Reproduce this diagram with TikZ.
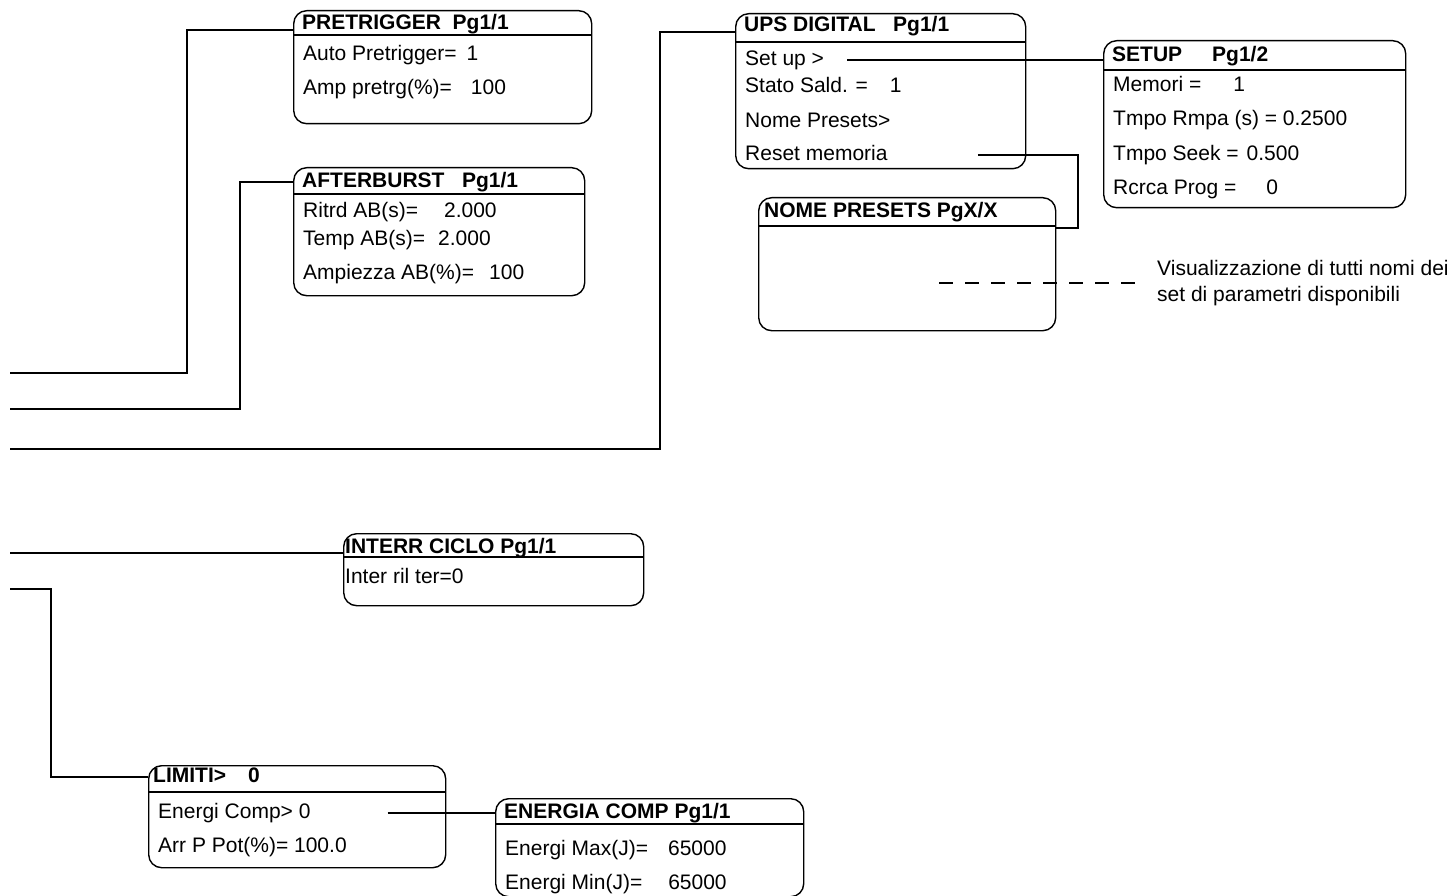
\documentclass[tikz,border=0pt]{standalone}
\usepackage{fontspec}
\setmainfont{Liberation Sans}
\usetikzlibrary{positioning}
\definecolor{menuInk}{HTML}{000000}
\tikzset{
  every picture/.style={font=\fontsize{21pt}{25pt}\selectfont, text=menuInk},
  menu box/.style={draw=menuInk, line width=1.4pt, rounded corners=13pt,
    anchor=north west, inner sep=0pt},
  menu title/.style={anchor=base west, font=\fontsize{21pt}{25pt}\selectfont\bfseries,
    inner xsep=9pt, inner ysep=0pt, text height=15pt, text depth=4pt},
  menu row/.style={anchor=west, inner xsep=10pt, inner ysep=0pt,
    text height=15pt, text depth=4pt},
  menu rule/.style={draw=menuInk, line width=1.8pt},
  menu link/.style={draw=menuInk, line width=2pt},
  menu dash/.style={draw=menuInk, line width=1.6pt, dash pattern=on 14pt off 12pt},
  menu note/.style={anchor=west, align=left, inner sep=0pt,
    font=\fontsize{21pt}{26pt}\selectfont}
}

\begin{document}
\begin{tikzpicture}[x=1pt,y=-1pt]
  \useasboundingbox (0,0) rectangle (1448,896);

  % PRETRIGGER
  \node[menu box, minimum width=298pt, minimum height=113pt] (pre) at (293,10) {};
  \draw[menu rule] ([yshift=-25pt]pre.north west) -- ([yshift=-25pt]pre.north east);
  \node[menu title] (preT) at (293,30) {PRETRIGGER\ \ Pg1/1};
  \node[menu row] (preA) at (293,55) {Auto Pretrigger=\hspace{10pt}1};
  \node[menu row] (preB) at (293,89) {Amp pretrg(\%)=\hspace{19pt}100};

  % AFTERBURST
  \node[menu box, minimum width=291pt, minimum height=128pt] (aft) at (293,167) {};
  \draw[menu rule] ([yshift=-27pt]aft.north west) -- ([yshift=-27pt]aft.north east);
  \node[menu title] (aftT) at (293,188) {AFTERBURST\ \ \ Pg1/1};
  \node[menu row] (aftA) at (293,212) {Ritrd AB(s)=\hspace{26pt}2.000};
  \node[menu row] (aftB) at (293,240) {Temp AB(s)=\hspace{13pt}2.000};
  \node[menu row] (aftC) at (293,274) {Ampiezza AB(\%)=\hspace{15pt}100};

  % UPS DIGITAL
  \node[menu box, minimum width=290pt, minimum height=155pt] (ups) at (735,13) {};
  \draw[menu rule] ([yshift=-29pt]ups.north west) -- ([yshift=-29pt]ups.north east);
  \node[menu title] (upsT) at (735,32) {UPS DIGITAL\ \ \ Pg1/1};
  \node[menu row] (upsA) at (735,60) {Set up >};
  \node[menu row] (upsB) at (735,87) {Stato Sald. =\hspace{22pt}1};
  \node[menu row] (upsC) at (735,122) {Nome Presets>};
  \node[menu row] (upsD) at (735,155) {Reset memoria};

  % SETUP
  \node[menu box, minimum width=302pt, minimum height=167pt] (setup) at (1103,40) {};
  \draw[menu rule] ([yshift=-30pt]setup.north west) -- ([yshift=-30pt]setup.north east);
  \node[menu title] (setupT) at (1103,62) {SETUP\hspace{30pt}Pg1/2};
  \node[menu row] (setupA) at (1103,86) {Memori =\hspace{32pt}1};
  \node[menu row] (setupB) at (1103,120) {Tmpo Rmpa (s) = 0.2500};
  \node[menu row] (setupC) at (1103,155) {Tmpo Seek =\hspace{8pt}0.500};
  \node[menu row] (setupD) at (1103,189) {Rcrca Prog =\hspace{30pt}0};

  % NOME PRESETS
  \node[menu box, minimum width=297pt, minimum height=133pt] (nome) at (758,197) {};
  \draw[menu rule] ([yshift=-29pt]nome.north west) -- ([yshift=-29pt]nome.north east);
  \node[menu title, inner xsep=6pt] (nomeT) at (758,218) {NOME PRESETS PgX/X};
  \node[menu note] (note) at (1157,283) {Visualizzazione di tutti nomi dei\\set di parametri disponibili};

  % INTERR CICLO
  \node[menu box, minimum width=300pt, minimum height=72pt] (intr) at (343,533) {};
  \draw[menu rule] ([yshift=-24pt]intr.north west) -- ([yshift=-24pt]intr.north east);
  \node[menu title, inner xsep=2pt] (intrT) at (343,553) {INTERR CICLO Pg1/1};
  \node[menu row, inner xsep=2pt] (intrA) at (343,578) {Inter ril ter=0};

  % LIMITI
  \node[menu box, minimum width=297pt, minimum height=102pt] (lim) at (148,765) {};
  \draw[menu rule] ([yshift=-27pt]lim.north west) -- ([yshift=-27pt]lim.north east);
  \node[menu title, inner xsep=5pt] (limT) at (148,782) {LIMITI>\hspace{22pt}0};
  \node[menu row] (limA) at (148,813) {Energi Comp> 0};
  \node[menu row] (limB) at (148,847) {Arr P Pot(\%)= 100.0};

  % ENERGIA COMP
  \node[menu box, minimum width=308pt, minimum height=98pt] (en) at (495,798) {};
  \draw[menu rule] ([yshift=-26pt]en.north west) -- ([yshift=-26pt]en.north east);
  \node[menu title] (enT) at (495,818) {ENERGIA COMP Pg1/1};
  \node[menu row] (enA) at (495,850) {Energi Max(J)=\hspace{20pt}65000};
  \node[menu row] (enB) at (495,884) {Energi Min(J)=\hspace{26pt}65000};

  % links from the main menu (left edge)
  \coordinate (inPre) at (10,373);
  \coordinate (inAft) at (10,409);
  \coordinate (inUps) at (10,449);
  \coordinate (inIntr) at (10,552);
  \coordinate (inLim) at (10,589);
  \draw[menu link] (preT.base west) -- ++(-106,0) |- (inPre);
  \draw[menu link] (aftT.west) -- ++(-53,0) |- (inAft);
  \draw[menu link] (upsT.base west) -- ++(-75,0) |- (inUps);
  \draw[menu link] (intrT.base west) -- (intrT.base west -| inIntr);
  \draw[menu link] (limT.west) -- ++(-97,0) |- (inLim);

  % links between pages
  \draw[menu link] ([xshift=13pt]upsA.east) -- (upsA.east -| setupT.west);
  \draw[menu link] ([xshift=80pt]upsD.east) -- ++(100,0) |- ([yshift=-31pt]nome.north east);
  \draw[menu link] ([xshift=67pt]limA.east) -- (limA.east -| enT.west);
  \draw[menu dash] ([xshift=-117pt]nome.east |- note.west) -- ([xshift=-15pt]note.west);
\end{tikzpicture}
\end{document}
